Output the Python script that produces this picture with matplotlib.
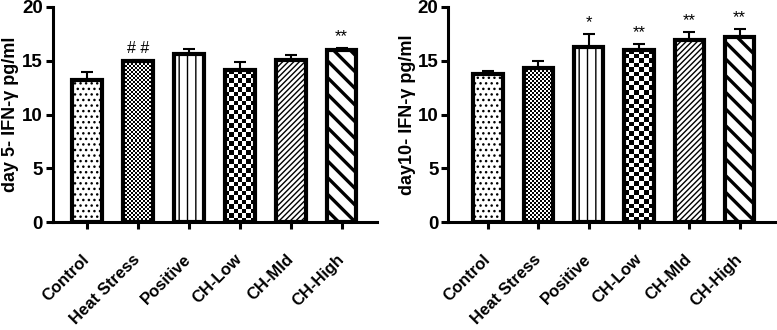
import numpy as np
import matplotlib
matplotlib.use('Agg')
import matplotlib.pyplot as plt
import matplotlib.transforms as mtransforms

plt.rcParams['font.family'] = ['Liberation Sans', 'DejaVu Sans']

groups = ['Control', 'Heat Stress', 'Positive', 'CH-Low', 'CH-MId', 'CH-High']
day5_mean = [13.2, 14.93, 15.6, 14.18, 15.1, 16.0]
day5_err = [0.72, 0.12, 0.48, 0.72, 0.45, 0.2]
day5_marks = ['', '# #', '', '', '', '**']
day10_mean = [13.78, 14.3, 16.24, 15.99, 16.92, 17.2]
day10_err = [0.25, 0.66, 1.26, 0.56, 0.72, 0.75]
day10_marks = ['', '', '*', '**', '**', '**']

# hatch for each group, None -> checkerboard drawn separately
hatches = ['...', None, '||', None, '//////', '\\\\']
checker_px = [None, 2, None, 4.5, None, None]
hatch_lw = [1.0, 1.0, 1.0, 1.0, 1.0, 2.4]


def checker_fill(ax, bar, cell):
    """Fills a bar with a black/white checkerboard of roughly [cell] pixels."""
    fig = ax.figure
    fig.canvas.draw()
    x0, y0 = bar.get_x(), bar.get_y()
    x1, y1 = x0 + bar.get_width(), y0 + bar.get_height()
    p0 = ax.transData.transform((x0, y0))
    p1 = ax.transData.transform((x1, y1))
    ncol = max(1, int(round(abs(p1[0] - p0[0]) / cell)))
    nrow = max(1, int(round(abs(p1[1] - p0[1]) / cell)))
    board = np.indices((nrow, ncol)).sum(axis=0) % 2
    img = ax.imshow(board, extent=(x0, x1, y0, y1), cmap='gray',
                    interpolation='nearest', aspect='auto', origin='lower',
                    zorder=bar.get_zorder() - 0.5)
    img.set_clip_path(bar)


def draw_panel(ax, means, errs, marks, ylabel, xlim, label_x):
    x = np.arange(len(groups))
    bars = ax.bar(x, means, width=0.58, color='white', edgecolor='black',
                  linewidth=3, zorder=3)
    for i, b in enumerate(bars):
        if hatches[i] is not None:
            b.set_hatch(hatches[i])
            try:
                b.set_hatch_linewidth(hatch_lw[i])
            except AttributeError:
                pass
        else:
            b.set_facecolor('none')
    ax.errorbar(x, means, yerr=[np.zeros(len(errs)), errs], fmt='none',
                ecolor='black', elinewidth=1.5, capsize=4.5, capthick=1.5,
                zorder=2)
    for i, m in enumerate(marks):
        if m:
            ax.annotate(m, (x[i], means[i] + errs[i]), xytext=(0, 3),
                        textcoords='offset points', ha='center', va='bottom',
                        fontsize=11.5 if '#' in m else 12)
    ax.set_ylim(0, 20)
    ax.set_xlim(*xlim)
    ax.set_yticks([0, 5, 10, 15, 20])
    ax.set_xticks(x)
    ax.set_xticklabels(groups, rotation=45, ha='right', va='center',
                       rotation_mode='anchor', fontsize=12, fontweight='bold')
    offset = mtransforms.ScaledTranslation(0.05, 0, ax.figure.dpi_scale_trans)
    for lab in ax.get_xticklabels():
        lab.set_transform(lab.get_transform() + offset)
    ax.set_ylabel(ylabel, fontsize=13, fontweight='bold')
    ax.yaxis.set_label_coords(label_x, 0.5)
    for lab in ax.get_yticklabels():
        lab.set_fontweight('bold')
        lab.set_fontsize(13.5)
    ax.spines['top'].set_visible(False)
    ax.spines['right'].set_visible(False)
    ax.spines['left'].set_linewidth(2.2)
    ax.spines['bottom'].set_linewidth(2.2)
    ax.tick_params(axis='y', width=2.2, length=5, pad=2)
    ax.tick_params(axis='x', width=2.2, length=5, pad=20)
    return bars


fig = plt.figure(figsize=(7.77, 3.3), dpi=100)
ax1 = fig.add_axes([0.068, 0.327, 0.417, 0.652])
ax2 = fig.add_axes([0.577, 0.327, 0.421, 0.652])

bars1 = draw_panel(ax1, day5_mean, day5_err, day5_marks,
                   'day 5- IFN-\u03b3 pg/ml', (-0.67, 5.69), -0.104)
bars2 = draw_panel(ax2, day10_mean, day10_err, day10_marks,
                   'day10- IFN-\u03b3 pg/ml', (-0.79, 5.71), -0.100)

for ax, bars in [(ax1, bars1), (ax2, bars2)]:
    for i, b in enumerate(bars):
        if checker_px[i] is not None:
            checker_fill(ax, b, checker_px[i])

fig.savefig('out.png', dpi=100)
